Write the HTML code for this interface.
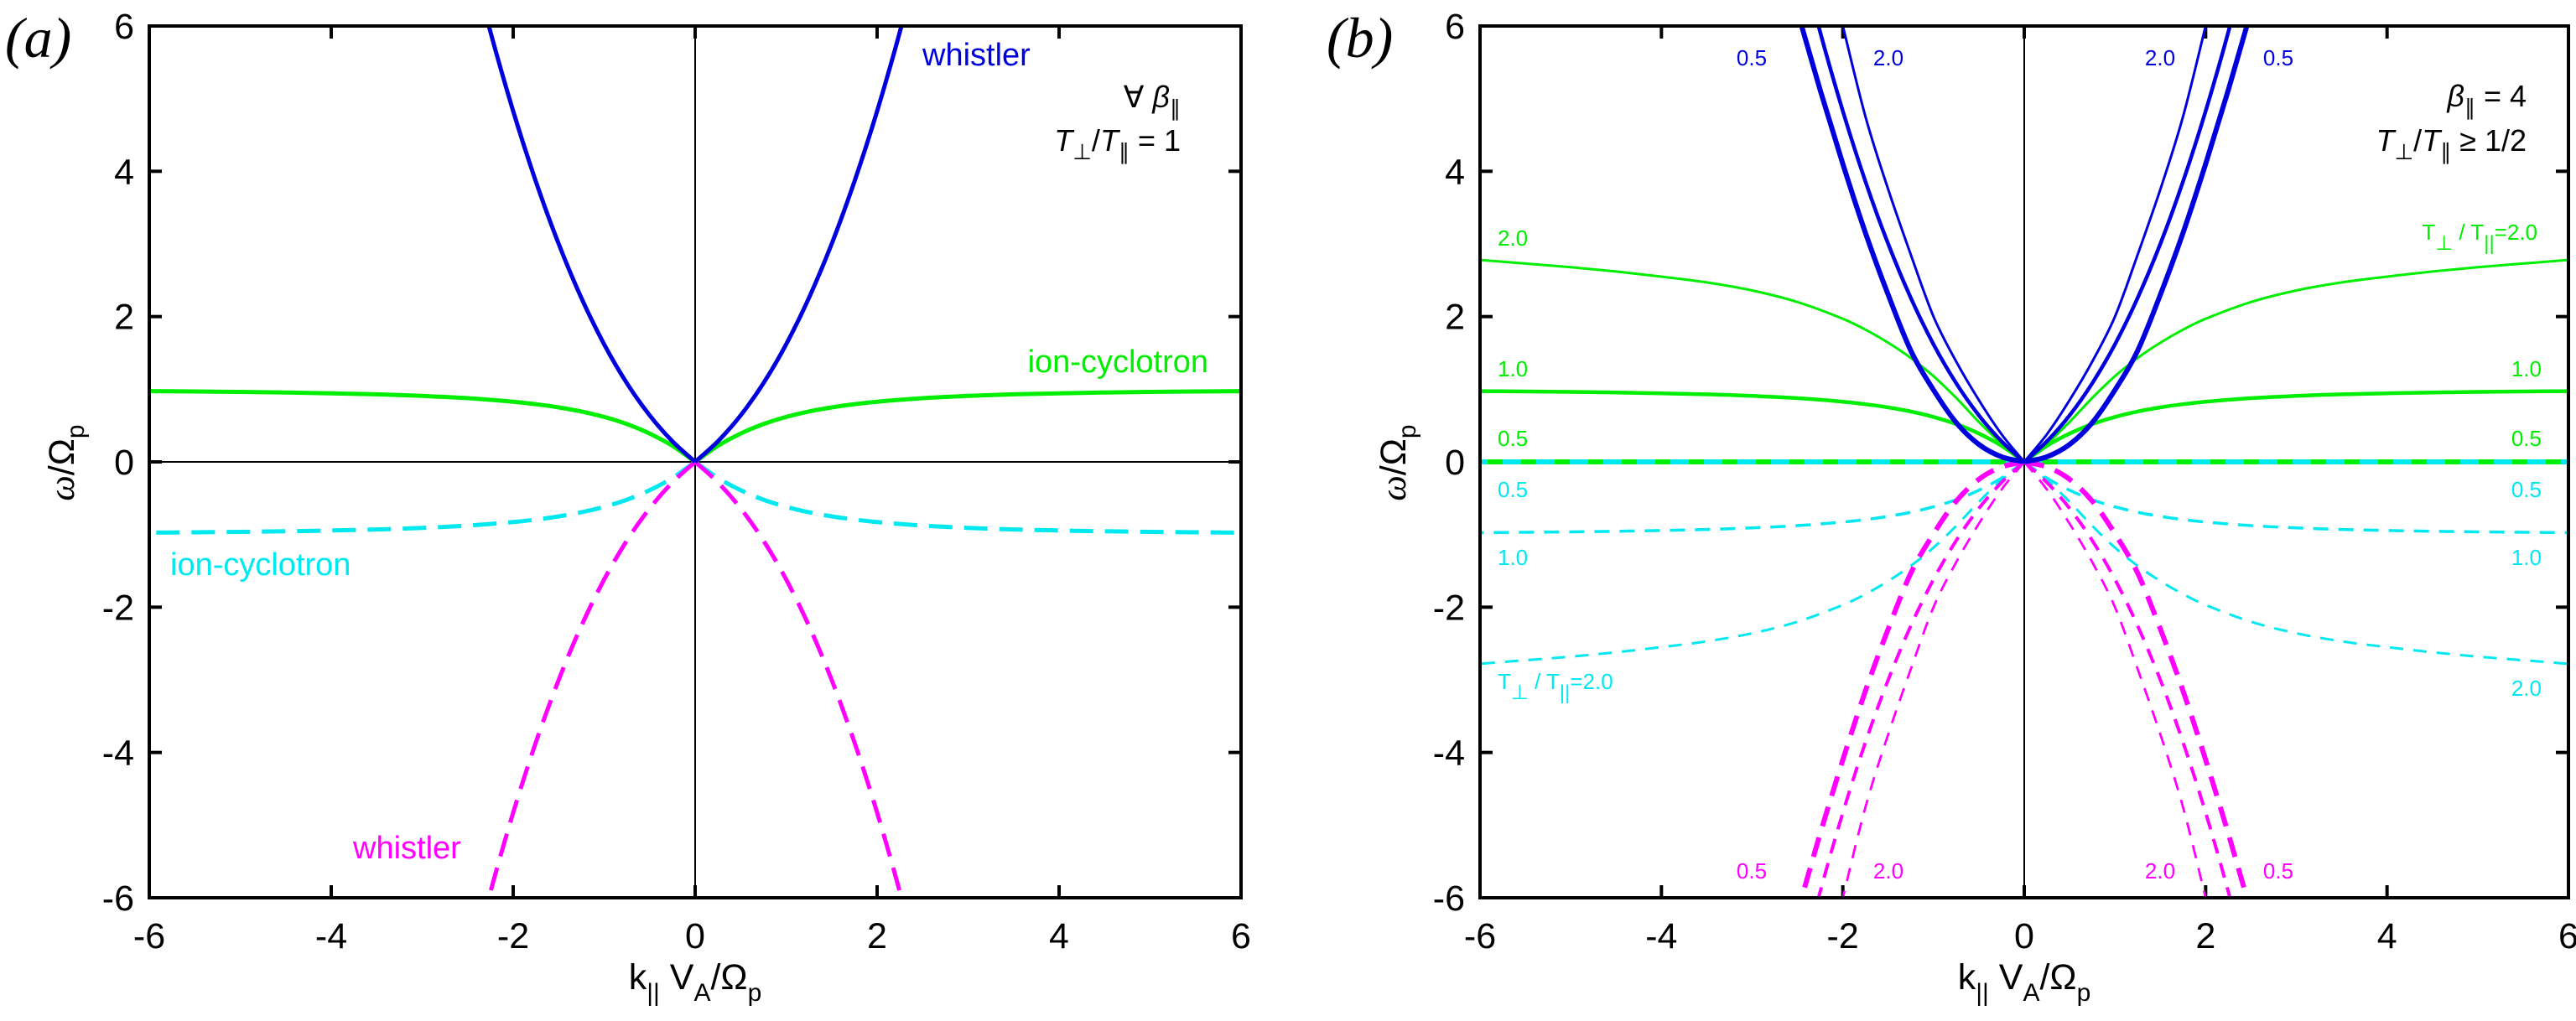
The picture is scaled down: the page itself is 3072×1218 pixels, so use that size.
<!DOCTYPE html>
<html><head><meta charset="utf-8"><style>
html,body{margin:0;padding:0;background:#fff;width:3072px;height:1218px;overflow:hidden;}
svg{display:block;}
text{font-family:"Liberation Sans",sans-serif;}
.serif{font-family:"Liberation Serif",serif;font-style:italic;}
</style></head><body>
<svg id="fig" width="3072" height="1218" viewBox="0 0 3072 1218" xmlns="http://www.w3.org/2000/svg">
<defs>
<clipPath id="clipA"><rect x="178" y="31" width="1302" height="1040"/></clipPath>
<clipPath id="clipB"><rect x="1765" y="31" width="1298" height="1040"/></clipPath>
</defs>
<g id="panelA"></g>
<g id="panelB"></g>
</svg>
<script>
// ---- data (positive k; curves drawn mirrored about k=0) ----
const xTicks = [-6,-4,-2,0,2,4,6];
const yTicks = [-6,-4,-2,0,2,4,6];
const kR = [0,0.25,0.5,0.75,1,1.25,1.5,1.75,2,2.25,2.5];
const kR20 = [0,0.25,0.5,0.75,1,1.25,1.5,1.75,2,2.25];
const kL = [0,0.25,0.5,0.75,1,1.25,1.5,1.75,2,2.5,3,3.5,4,4.5,5,5.5,6];
// panel a (T_perp/T_par = 1)
const whistlerA = [0,0.283,0.640,1.082,1.618,2.255,3.0,3.857,4.828,5.918,7.127];
const ionCycA = [0,0.221,0.390,0.520,0.618,0.693,0.75,0.794,0.828,0.877,0.908,0.930,0.944,0.955,0.963,0.969,0.974];
// panel b (beta=4)
const whistlerB05 = [0,0.07,0.24,0.54,0.99,1.53,2.3,3.15,4.1,5.12,6.2];
const whistlerB10 = [0,0.283,0.640,1.082,1.618,2.255,3.0,3.857,4.828,5.918,7.127];
const whistlerB20 = [0,0.38,0.85,1.38,2.0,2.85,3.75,4.75,6.0,7.3];
const ionCycB05 = [0,0,0,0,0,0,0,0,0,0,0,0,0,0,0,0,0];
const ionCycB10 = [0,0.221,0.390,0.520,0.618,0.693,0.75,0.794,0.828,0.877,0.908,0.930,0.944,0.955,0.963,0.969,0.974];
const ionCycB20 = [0,0.25,0.55,0.88,1.18,1.43,1.64,1.82,1.97,2.2,2.36,2.47,2.55,2.62,2.68,2.73,2.78];

const NS='http://www.w3.org/2000/svg';
function mk(tag, attrs, parent){const e=document.createElementNS(NS,tag);for(const k in attrs)e.setAttribute(k,attrs[k]);parent.appendChild(e);return e;}
function axes(x0,x1,y0,y1){return {x:v=>x0+(v+6)/12*(x1-x0), y:v=>y1-(v+6)/12*(y1-y0)};}
function hermitePath(ks,ws,sc,side,sign){
  const n=ks.length, m=[];
  for(let i=0;i<n;i++){
    const a=Math.max(0,i-1), b=Math.min(n-1,i+1);
    m.push((ws[b]-ws[a])/(ks[b]-ks[a]));
  }
  const P=(k,w)=>[sc.x(side*k),sc.y(sign*w)];
  let p=P(ks[0],ws[0]);
  let d='M'+p[0].toFixed(1)+','+p[1].toFixed(1);
  for(let i=0;i<n-1;i++){
    const h=ks[i+1]-ks[i];
    const c1=P(ks[i]+h/3, ws[i]+m[i]*h/3);
    const c2=P(ks[i+1]-h/3, ws[i+1]-m[i+1]*h/3);
    const e=P(ks[i+1],ws[i+1]);
    d+='C'+c1[0].toFixed(1)+','+c1[1].toFixed(1)+' '+c2[0].toFixed(1)+','+c2[1].toFixed(1)+' '+e[0].toFixed(1)+','+e[1].toFixed(1);
  }
  return d;
}
function curve(g,sc,ks,ws,sign,color,width,dash,name){
  [1,-1].forEach(side=>{
    const p=mk('path',{d:hermitePath(ks,ws,sc,side,sign),fill:'none',stroke:color,'stroke-width':width,'stroke-dasharray':dash||'none'},g);
    
    
  });
}
function frame(g,sc,x0,x1,y0,y1,prefix){
  const lines=mk('g',{},g);
  
  
  mk('line',{x1:sc.x(0),x2:sc.x(0),y1:y0,y2:y1,stroke:'#000','stroke-width':2},lines);
  mk('line',{x1:x0,x2:x1,y1:sc.y(0),y2:sc.y(0),stroke:'#000','stroke-width':2},lines);
  const tk=mk('g',{stroke:'#000','stroke-width':4},g);
  
  
  xTicks.forEach(v=>{if(v===-6||v===6)return;const x=sc.x(v);
    mk('line',{x1:x,x2:x,y1:y1,y2:y1-15},tk);mk('line',{x1:x,x2:x,y1:y0,y2:y0+15},tk);});
  yTicks.forEach(v=>{if(v===-6||v===6)return;const y=sc.y(v);
    mk('line',{x1:x0,x2:x0+15,y1:y,y2:y},tk);mk('line',{x1:x1,x2:x1-15,y1:y,y2:y},tk);});
  const xl=mk('g',{'font-size':43,'text-anchor':'middle'},g);
  
  
  xTicks.forEach(v=>{const t=mk('text',{x:sc.x(v),y:y1+60},xl);t.textContent=v;});
  const yl=mk('g',{'font-size':43,'text-anchor':'end'},g);
  
  
  yTicks.forEach(v=>{const t=mk('text',{x:x0-18,y:sc.y(v)+15},yl);t.textContent=v;});
}
function box(g,x0,x1,y0,y1,prefix){
  const r=mk('rect',{x:x0,y:y0,width:x1-x0,height:y1-y0,fill:'none',stroke:'#000','stroke-width':4},g);
  
  
}
function txt(g,html,attrs,name){const t=mk('text',attrs,g);t.innerHTML=html;return t;}
function tRatio(val){return 'T<tspan dy="12" font-size="24">⊥</tspan><tspan dy="-12"> / T</tspan><tspan dy="12" font-size="24">||</tspan><tspan dy="-12">='+val+'</tspan>';}

// ---------- Panel A ----------
(function(){
  const g=document.getElementById('panelA');
  const x0=178,x1=1480,y0=31,y1=1071, sc=axes(x0,x1,y0,y1);
  frame(g,sc,x0,x1,y0,y1,'panel-a');
  const c=mk('g',{'clip-path':'url(#clipA)'},g);
  
  
  curve(c,sc,kL,ionCycA,1,'#00ee00',5,null,'ion-cyclotron-positive');
  curve(c,sc,kL,ionCycA,-1,'#00e8f0',5,'28 14','ion-cyclotron-negative');
  curve(c,sc,kR,whistlerA,-1,'#ff00ff',5,'28 14','whistler-negative');
  curve(c,sc,kR,whistlerA,1,'#0000dd',5,null,'whistler-positive');
  box(g,x0,x1,y0,y1,'panel-a');
  txt(g,'(a)',{x:6,y:68,'font-size':68,class:'serif'},'panel-a-label');
  txt(g,'whistler',{x:1100,y:78,'font-size':38,fill:'#0000dd'},'whistler-label-a');
  txt(g,'ion-cyclotron',{x:1441,y:444,'font-size':38,fill:'#00ee00','text-anchor':'end'},'ion-cyclotron-label-a');
  txt(g,'ion-cyclotron',{x:203,y:686,'font-size':38,fill:'#00e8f0'},'ion-cyclotron-neg-label-a');
  txt(g,'whistler',{x:421,y:1024,'font-size':38,fill:'#ff00ff'},'whistler-neg-label-a');
  txt(g,'∀ <tspan font-style="italic">β</tspan><tspan dy="10" font-size="26">∥</tspan>',{x:1408,y:128,'font-size':36,'text-anchor':'end','font-family':'Liberation Serif, serif'},'beta-annotation-a');
  txt(g,'<tspan font-style="italic">T</tspan><tspan dy="10" font-size="26">⊥</tspan><tspan dy="-10">/</tspan><tspan font-style="italic">T</tspan><tspan dy="10" font-size="26">∥</tspan><tspan dy="-10"> = 1</tspan>',{x:1408,y:180,'font-size':36,'text-anchor':'end','font-family':'Liberation Serif, serif'},'anisotropy-annotation-a');
  txt(g,'k<tspan dy="14" font-size="30">||</tspan><tspan dy="-14">  V</tspan><tspan dy="14" font-size="30">A</tspan><tspan dy="-14">/Ω</tspan><tspan dy="14" font-size="30">p</tspan>',{x:829,y:1180,'font-size':43,'text-anchor':'middle'},'x-axis-title-a');
  txt(g,'<tspan font-style="italic" font-family="Liberation Serif, serif">ω</tspan>/Ω<tspan dy="12" font-size="30">p</tspan>',{x:0,y:0,'font-size':43,'text-anchor':'middle',transform:'translate(88,552) rotate(-90)'},'y-axis-title-a');
})();

// ---------- Panel B ----------
(function(){
  const g=document.getElementById('panelB');
  const x0=1765,x1=3063,y0=31,y1=1071, sc=axes(x0,x1,y0,y1);
  frame(g,sc,x0,x1,y0,y1,'panel-b');
  const c=mk('g',{'clip-path':'url(#clipB)'},g);
  
  
  curve(c,sc,kL,ionCycB05,1,'#00ee00',6,null,'ion-cyclotron-b-0.5');
  curve(c,sc,kL,ionCycB05,-1,'#00e8f0',6,'22 18','ion-cyclotron-neg-b-0.5');
  curve(c,sc,kL,ionCycB10,1,'#00ee00',4.5,null,'ion-cyclotron-b-1.0');
  curve(c,sc,kL,ionCycB20,1,'#00ee00',3,null,'ion-cyclotron-b-2.0');
  curve(c,sc,kL,ionCycB10,-1,'#00e8f0',3.5,'18 12','ion-cyclotron-neg-b-1.0');
  curve(c,sc,kL,ionCycB20,-1,'#00e8f0',3,'16 12','ion-cyclotron-neg-b-2.0');
  curve(c,sc,kR,whistlerB05,-1,'#ff00ff',6,'24 14','whistler-neg-b-0.5');
  curve(c,sc,kR,whistlerB10,-1,'#ff00ff',4,'18 12','whistler-neg-b-1.0');
  curve(c,sc,kR20,whistlerB20,-1,'#ff00ff',2.8,'16 12','whistler-neg-b-2.0');
  curve(c,sc,kR,whistlerB05,1,'#0000dd',6,null,'whistler-b-0.5');
  curve(c,sc,kR,whistlerB10,1,'#0000dd',4.5,null,'whistler-b-1.0');
  curve(c,sc,kR20,whistlerB20,1,'#0000dd',3,null,'whistler-b-2.0');
  box(g,x0,x1,y0,y1,'panel-b');
  txt(g,'(b)',{x:1582,y:68,'font-size':68,class:'serif'},'panel-b-label');
  const fs=26;
  [['0.5',2089],['2.0',2252],['2.0',2576],['0.5',2717]].forEach((a,i)=>{
    txt(g,a[0],{x:a[1],y:78,'font-size':fs,fill:'#0000dd','text-anchor':'middle'},'whistler-b-label-'+i);
    txt(g,a[0],{x:a[1],y:1048,'font-size':fs,fill:'#ff00ff','text-anchor':'middle'},'whistler-neg-b-label-'+i);
  });
  txt(g,'2.0',{x:1786,y:293,'font-size':fs,fill:'#00ee00'},'green-2.0-left');
  txt(g,'1.0',{x:1786,y:449,'font-size':fs,fill:'#00ee00'},'green-1.0-left');
  txt(g,'0.5',{x:1786,y:532,'font-size':fs,fill:'#00ee00'},'green-0.5-left');
  txt(g,tRatio('2.0'),{x:3026,y:286,'font-size':fs,fill:'#00ee00','text-anchor':'end'},'green-2.0-right');
  txt(g,'1.0',{x:3031,y:449,'font-size':fs,fill:'#00ee00','text-anchor':'end'},'green-1.0-right');
  txt(g,'0.5',{x:3031,y:532,'font-size':fs,fill:'#00ee00','text-anchor':'end'},'green-0.5-right');
  txt(g,'0.5',{x:1786,y:593,'font-size':fs,fill:'#00e8f0'},'cyan-0.5-left');
  txt(g,'1.0',{x:1786,y:674,'font-size':fs,fill:'#00e8f0'},'cyan-1.0-left');
  txt(g,tRatio('2.0'),{x:1786,y:822,'font-size':fs,fill:'#00e8f0'},'cyan-2.0-left');
  txt(g,'0.5',{x:3031,y:593,'font-size':fs,fill:'#00e8f0','text-anchor':'end'},'cyan-0.5-right');
  txt(g,'1.0',{x:3031,y:674,'font-size':fs,fill:'#00e8f0','text-anchor':'end'},'cyan-1.0-right');
  txt(g,'2.0',{x:3031,y:830,'font-size':fs,fill:'#00e8f0','text-anchor':'end'},'cyan-2.0-right');
  txt(g,'<tspan font-style="italic">β</tspan><tspan dy="10" font-size="26">∥</tspan><tspan dy="-10"> = 4</tspan>',{x:3013,y:127,'font-size':36,'text-anchor':'end','font-family':'Liberation Serif, serif'},'beta-annotation-b');
  txt(g,'<tspan font-style="italic">T</tspan><tspan dy="10" font-size="26">⊥</tspan><tspan dy="-10">/</tspan><tspan font-style="italic">T</tspan><tspan dy="10" font-size="26">∥</tspan><tspan dy="-10"> ≥ 1/2</tspan>',{x:3013,y:180,'font-size':36,'text-anchor':'end','font-family':'Liberation Serif, serif'},'anisotropy-annotation-b');
  txt(g,'k<tspan dy="14" font-size="30">||</tspan><tspan dy="-14">  V</tspan><tspan dy="14" font-size="30">A</tspan><tspan dy="-14">/Ω</tspan><tspan dy="14" font-size="30">p</tspan>',{x:2414,y:1180,'font-size':43,'text-anchor':'middle'},'x-axis-title-b');
  txt(g,'<tspan font-style="italic" font-family="Liberation Serif, serif">ω</tspan>/Ω<tspan dy="12" font-size="30">p</tspan>',{x:0,y:0,'font-size':43,'text-anchor':'middle',transform:'translate(1676,552) rotate(-90)'},'y-axis-title-b');
})();
</script>
</body></html>
